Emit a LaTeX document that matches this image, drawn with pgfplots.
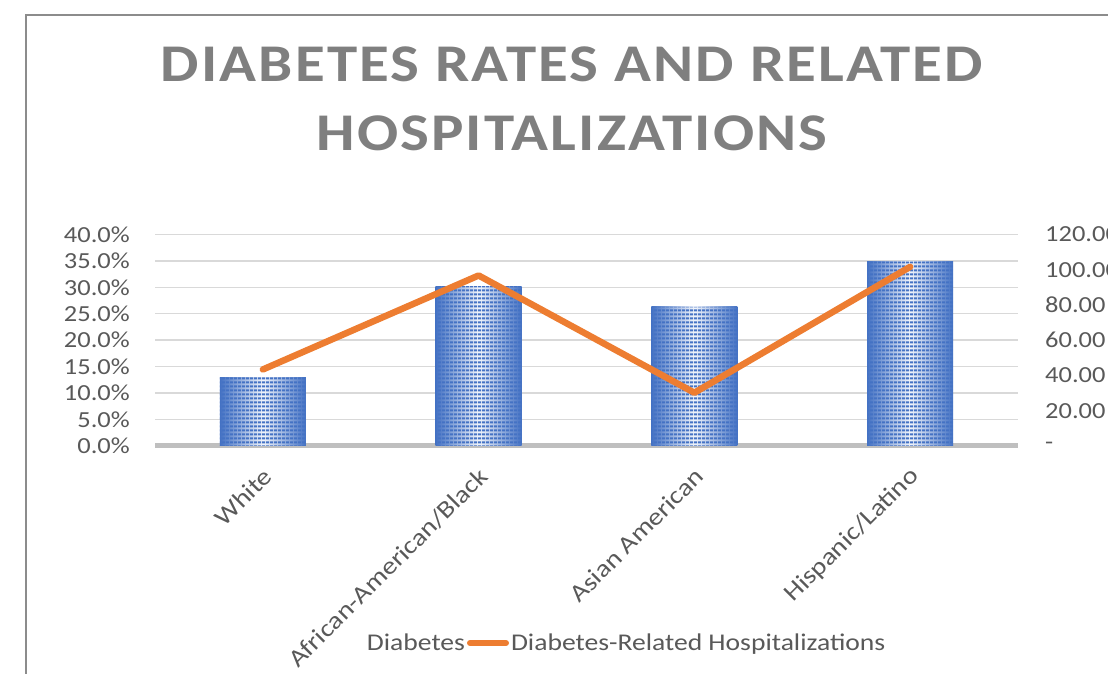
\documentclass[border=0pt]{standalone}
\usepackage{fontspec}
\setmainfont{Carlito}[FakeStretch=1.15]
\newfontfamily\titlefont{Carlito}[FakeStretch=1.15,LetterSpace=4]
\usepackage{pgfplots}
\pgfplotsset{compat=1.18}
\usetikzlibrary{patterns.meta}
\definecolor{barblue}{HTML}{4472C4}
\definecolor{barlight}{HTML}{F2F5FB}
\definecolor{lineorange}{HTML}{ED7D31}
\definecolor{txtgray}{HTML}{595959}
\definecolor{titlegray}{HTML}{7F7F7F}
\definecolor{gridgray}{HTML}{D9D9D9}
\definecolor{basegray}{HTML}{BFBFBF}
\definecolor{framegray}{HTML}{8C8C8C}

\pgfplotsset{
  shadedbar/.style={draw=none, bar shift=0pt, left color=barblue, right color=barblue, middle color=barlight},
}

\begin{document}
\begin{tikzpicture}
\useasboundingbox (0pt,0pt) rectangle (1108pt,674pt);
\draw[framegray, line width=1.5pt] (26pt,-5pt) -- (26pt,659pt) -- (1120pt,659pt);
\node[anchor=base, font=\titlefont\bfseries\fontsize{53}{64}\selectfont, text=titlegray, inner sep=0pt]
  at (572pt,592pt) {DIABETES RATES AND RELATED};
\node[anchor=base, font=\titlefont\bfseries\fontsize{53}{64}\selectfont, text=titlegray, inner sep=0pt]
  at (572pt,523pt) {HOSPITALIZATIONS};

% bars: diabetes rate (left axis, %)
\begin{axis}[
  at={(155pt,228pt)}, anchor=south west, scale only axis,
  width=863pt, height=211.6pt,
  xmin=-0.5, xmax=3.5, ymin=0, ymax=40,
  axis line style={draw=none},
  major tick style={draw=none},
  ytick={5,10,...,40},
  yticklabels={5.0\%,10.0\%,15.0\%,20.0\%,25.0\%,30.0\%,35.0\%,40.0\%},
  extra y ticks={0},
  extra y tick labels={0.0\%},
  extra y tick style={major grid style={basegray, line width=5pt}},
  ymajorgrids,
  major grid style={gridgray, line width=1.5pt},
  yticklabel style={font=\fontsize{23}{23}\selectfont, text=txtgray, anchor=east, inner sep=0pt, xshift=-25pt},
  xtick={0,1,2,3},
  xticklabels={White, African-American/Black, Asian American, Hispanic/Latino},
  xticklabel style={font=\fontsize{24.5}{24.5}\selectfont, text=txtgray, xshift=5pt, yshift=-22pt, rotate=45, anchor=east, inner sep=0pt},
  ybar, bar width=86pt,
]
\addplot[shadedbar] coordinates {(0,13.0)};
\addplot[shadedbar] coordinates {(1,30.2)};
\addplot[shadedbar] coordinates {(2,26.3)};
\addplot[shadedbar] coordinates {(3,34.9)};
% stripe texture over the gradient
\addplot[draw=none, bar shift=0pt, pattern={Lines[angle=0,distance=4pt,line width=2.4pt]}, pattern color=barblue]
  coordinates {(0,13.0) (1,30.2) (2,26.3) (3,34.9)};
\end{axis}

% line: hospitalizations (right axis)
\begin{axis}[
  at={(155pt,228pt)}, anchor=south west, scale only axis,
  width=863pt, height=211.6pt,
  xmin=-0.5, xmax=3.5, ymin=0, ymax=120,
  axis line style={draw=none},
  major tick style={draw=none},
  xtick=\empty,
  ytick={0,20,...,120},
  yticklabels={-,20.00,40.00,60.00,80.00,100.00,120.00},
  yticklabel pos=right,
  yticklabel style={font=\fontsize{23}{23}\selectfont, text=txtgray, anchor=west, inner sep=0pt, xshift=27pt},
  legend style={at={(0.243,-0.931)}, anchor=west, draw=none, fill=none,
    font=\fontsize{24}{24}\selectfont, text=txtgray, legend columns=2,
    inner sep=0pt, nodes={inner sep=2pt}},
]
\addlegendimage{empty legend}
\addlegendentry{Diabetes}
\addplot[lineorange, line width=6.5pt, line cap=round, line join=round,
  legend image code/.code={\draw[lineorange, line width=6pt, line cap=round] (5pt,0pt) -- (41pt,0pt);}]
  coordinates {(0,43.4) (1,96.7) (2,30.2) (3,101.6)};
\addlegendentry{Diabetes-Related Hospitalizations}
\end{axis}
\end{tikzpicture}
\end{document}
